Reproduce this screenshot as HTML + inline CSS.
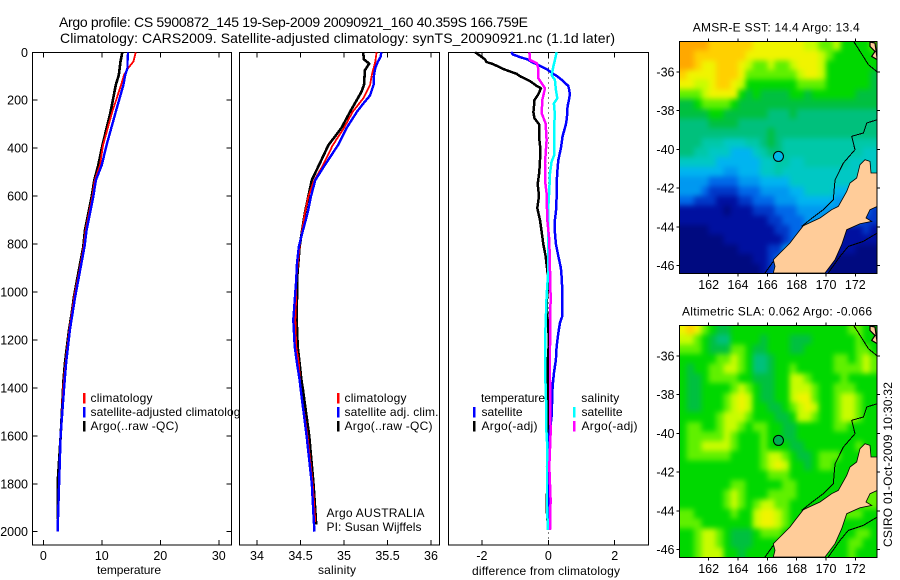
<!DOCTYPE html>
<html lang="en">
<head>
<meta charset="utf-8">
<title>Argo profile chart</title>
<style>
html,body{margin:0;padding:0;background:#fff;width:900px;height:580px;overflow:hidden}
svg{display:block}
text{font-family:"Liberation Sans",sans-serif;fill:#000}
</style>
</head>
<body>
<svg id="chart" width="900" height="580" viewBox="0 0 900 580" xmlns="http://www.w3.org/2000/svg"></svg>
<script>
/* ---------- profile data ---------- */
const depthTicks = [0,200,400,600,800,1000,1200,1400,1600,1800,2000];
const tempTicks = [0,10,20,30];
const salTicks = [34,34.5,35,35.5,36];
const salTickLabels = ['34','34.5','35','35.5','36'];
const diffTicks = [-2,0,2];

const tempClimDepth = [0,39,66,95,136,248,388,470,533,602,741,811,921,1019,1158,1297,1400,1600,1720];
const tempClim = [15.8,15.4,14.5,13.8,13.3,11.8,10.2,9.7,8.8,8.4,7.25,6.9,6.1,5.3,4.45,3.8,3.4,3.0,2.8];
const tempSatDepth = [0,39,66,95,136,248,388,470,533,602,741,811,921,1019,1158,1297,1400,1600,1800,2000];
const tempSat = [14.5,14.4,14.4,14.0,13.7,12.4,10.8,10.0,9.0,8.55,7.4,7.05,6.2,5.45,4.55,3.9,3.55,2.95,2.7,2.45];
const tempArgoDepth = [0,39,95,136,248,388,470,533,602,741,811,921,1019,1089,1158,1297,1367,1400,1600,1800,1950];
const tempArgo = [13.5,13.2,12.9,12.4,11.5,10.1,9.4,8.72,8.27,7.13,6.84,5.99,5.25,4.85,4.4,3.7,3.45,3.38,2.97,2.45,2.45];

const salClimDepth = [0,39,95,136,193,248,316,388,470,540,602,672,741,811,880,950,1019,1116,1228,1297,1400,1600,1800,1960];
const salClim = [35.375,35.36,35.32,35.3,35.22,35.1,35.0,34.87,34.76,34.65,34.59,34.55,34.52,34.49,34.47,34.45,34.45,34.44,34.45,34.48,34.5,34.58,34.64,34.67];
const salSatDepth = [0,20,39,66,95,136,180,215,248,316,388,470,533,602,672,741,811,880,950,1019,1116,1228,1297,1367,1400,1600,1800,2000];
const salSat = [35.43,35.42,35.39,35.36,35.345,35.34,35.3,35.22,35.15,35.03,34.93,34.78,34.67,34.62,34.58,34.53,34.48,34.46,34.45,34.437,34.417,34.433,34.46,34.49,34.5,34.57,34.63,34.66];
const salArgoDepth = [0,30,47,75,136,165,248,316,388,465,533,602,672,741,811,880,950,1019,1116,1228,1297,1367,1400,1600,1800,1970];
const salArgo = [35.22,35.23,35.29,35.24,35.23,35.2,35.07,34.97,34.82,34.72,34.63,34.59,34.55,34.52,34.49,34.475,34.46,34.46,34.456,34.468,34.49,34.51,34.525,34.6,34.65,34.68];

const diffTempArgoDepth = [0,10,20,30,40,50,60,70,80,90,100,120,140,150,175,200,225,250,275,300,350,400,450,500,550,600,650,700,750,800,850,900,950,1050,1100,1200,1300,1400,1500,1600,1700,1800,1900,1960];
const diffTempArgo = [-2.2,-2.1,-2.0,-1.9,-1.87,-1.65,-1.5,-1.35,-1.15,-.95,-.85,-.55,-.35,-.22,-.3,-.42,-.43,-.45,-.42,-.28,-.28,-.24,-.25,-.27,-.32,-.28,-.33,-.25,-.2,-.15,-.08,-.04,0,-.05,-.03,.02,-.02,-.02,0,-.03,0,-.03,-.05,-.02];
const diffTempSatDepth = [0,10,20,30,40,50,60,70,80,90,100,120,140,150,175,200,225,250,275,300,350,400,450,500,550,600,650,700,750,800,850,900,950,1000,1050,1102,1130,1172,1228,1283,1339,1394,1519,1631,1756,1992];
const diffTempSat = [-1.12,-1.05,-.85,-.62,-.5,-.35,-.2,-.05,.05,.15,.27,.45,.6,.62,.65,.62,.58,.57,.56,.53,.43,.38,.3,.27,.25,.25,.24,.2,.2,.23,.3,.38,.41,.42,.42,.42,.35,.3,.25,.23,.17,.13,.1,0,0,.02];
const diffSalSatDepth = [0,32,60,95,115,157,192,213,248,366,428,456,505,574,644,783,908,1019,1172,1353,1450,1547,1645,1728,1895,1992];
const diffSalSat = [.25,.2,.15,.1,.2,.23,.27,.17,.19,.18,.18,.1,.05,.03,0,0,0,-.05,-.09,-.09,-.07,-.07,-.03,-.04,-.04,-.01];
const diffSalArgoDepth = [0,32,46,67,108,150,199,255,296,366,463,533,588,700,783,1019,1228,1367,1589,1728,1867,1992];
const diffSalArgo = [-.57,-.55,-.35,-.3,-.3,-.1,-.18,-.2,-.08,-.05,-.1,-.1,-.05,-.03,.03,.07,.05,.05,.07,.03,.07,.05];

/* ---------- map data: colour level per half-degree cell ---------- */
const mapLonTicks = [162,164,166,168,170,172];
const mapLatTicks = [36,38,40,42,44,46];
const floatLon = 166.759;
const floatLat = 40.359;
const sstLevels = [
[15,15,15,15,14,14,14,14,14,14,13,13,13,13,13,13,13,12,12,11,11,12,10,10,10,10,11],
[15,15,14,14,14,14,14,14,14,13,13,13,13,13,13,13,13,13,13,12,11,10,10,10,10,10,10],
[15,15,14,13,13,14,14,14,13,12,11,11,12,11,11,12,13,13,13,12,10,10,10,10,10,10,10],
[14,13,13,13,13,14,14,14,13,11,11,11,11,11,11,11,12,13,13,12,10,10,10,10,10,10,9],
[13,13,12,12,13,14,14,13,12,10,10,10,10,10,10,10,11,11,11,11,10,10,10,10,10,10,9],
[11,11,11,12,13,13,13,13,10,9,10,9,9,9,9,10,10,9,10,10,10,10,10,10,9,9,9],
[9,9,10,11,11,11,11,10,9,9,9,9,9,9,9,9,9,9,9,9,9,9,9,9,9,9,9],
[9,9,9,9,10,10,9,9,9,9,9,9,8,8,8,9,8,8,8,8,8,8,8,8,8,8,8],
[8,8,8,8,9,9,9,9,8,8,8,8,8,8,8,8,8,8,8,8,8,8,8,8,8,8,8],
[8,8,8,8,8,8,8,8,8,8,8,8,9,8,8,8,8,8,8,8,8,8,8,8,8,8,8],
[8,8,8,7,7,7,6,6,6,7,7,8,9,8,7,7,7,7,7,7,7,7,7,7,7,7,7],
[8,8,7,7,6,6,6,5,5,5,6,7,8,8,7,7,7,7,7,7,7,7,7,7,7,6,6],
[6,6,6,6,6,5,5,5,5,5,5,6,6,7,7,6,6,7,7,7,7,7,7,6,6,6,6],
[5,5,5,5,5,5,4,4,5,5,5,6,6,7,6,6,6,6,6,6,6,6,6,6,6,6,6],
[4,4,4,4,3,3,3,3,4,4,4,5,5,5,5,6,6,6,6,6,6,6,6,6,6,5,5],
[4,4,4,3,2,2,2,2,3,3,3,4,4,4,4,5,5,6,6,6,6,5,5,5,5,5,5],
[3,3,2,2,2,1,1,1,2,2,3,3,3,4,4,4,5,5,5,5,5,4,4,4,4,4,4],
[1,1,1,1,1,1,0,1,1,1,2,2,2,3,3,3,4,4,4,4,4,4,4,4,4,3,2],
[1,1,1,1,1,1,1,1,1,1,1,1,2,2,3,3,3,4,4,4,4,4,4,4,3,2,2],
[0,0,0,0,1,1,1,1,1,1,1,1,1,2,2,3,3,4,4,4,4,3,1,1,1,2,1],
[0,0,0,0,0,0,1,1,1,1,1,1,1,1,2,3,4,4,4,4,4,1,1,1,1,1,1],
[0,0,0,0,0,0,0,0,1,1,1,1,2,2,4,5,5,5,5,5,1,1,1,1,0,0,0],
[0,0,0,0,0,0,0,0,0,0,1,1,2,3,4,5,5,5,1,1,1,0,0,0,0,0,0],
[0,0,0,0,0,0,0,0,0,0,0,1,2,3,4,5,5,5,2,2,0,0,0,0,0,0,0]
];
const slaLevels = [
[13,14,13,11,10,9,9,10,10,10,10,10,10,10,10,10,10,10,10,10,10,10,10,11,11,10,10],
[12,12,11,10,9,8,8,10,10,10,10,9,10,10,10,9,9,9,10,10,10,10,10,10,11,10,10],
[11,11,11,10,9,9,9,11,11,10,9,9,10,10,10,9,9,10,10,10,10,10,10,10,11,11,10],
[10,10,10,10,10,11,11,12,11,10,8,8,9,10,10,10,10,10,10,10,10,11,11,10,11,12,11],
[10,9,10,10,11,11,12,12,11,10,8,8,9,10,10,11,10,10,10,10,10,11,11,11,11,12,11],
[10,9,9,10,11,11,11,11,10,10,9,9,9,10,10,12,12,11,10,10,10,10,11,10,10,10,10],
[10,9,9,10,10,10,10,11,12,11,10,9,9,10,10,12,12,12,11,10,10,11,11,11,10,10,10],
[10,9,9,10,10,10,11,12,13,12,10,9,9,10,10,12,13,13,11,10,10,11,12,12,11,10,10],
[10,9,9,10,10,10,11,12,13,12,10,10,9,9,10,11,12,13,12,10,10,11,12,12,11,10,10],
[10,10,10,10,10,11,12,12,12,11,10,10,10,9,9,10,12,12,11,10,10,11,12,12,11,10,10],
[10,11,11,10,10,11,12,12,11,10,11,11,10,10,9,9,10,10,10,10,10,11,11,10,10,10,10],
[10,11,11,11,11,11,12,11,10,10,10,11,10,10,9,9,10,10,10,10,10,10,10,10,10,10,10],
[10,11,11,12,12,12,12,11,10,10,10,11,10,10,10,9,9,10,10,10,10,10,10,10,11,10,10],
[10,11,11,11,11,11,11,10,10,10,10,11,12,12,11,10,9,9,10,11,11,11,10,10,10,10,10],
[10,10,10,10,10,10,10,10,10,10,10,11,12,13,12,10,10,9,10,11,11,10,10,10,10,10,10],
[10,10,10,10,10,10,10,10,10,10,10,10,11,11,11,10,10,10,10,10,10,10,10,10,10,10,10],
[10,10,10,10,10,10,10,11,11,10,10,10,10,10,11,11,10,10,10,10,10,10,10,10,10,11,11],
[10,10,10,10,10,10,11,12,11,10,10,10,11,11,11,11,10,10,10,10,10,10,10,10,10,11,11],
[10,10,10,10,10,10,11,12,11,10,11,12,12,11,11,10,10,10,10,10,10,10,10,10,10,11,11],
[11,11,10,10,10,10,10,11,10,10,12,13,13,12,11,10,10,10,10,10,10,10,11,11,11,10,10],
[11,11,11,10,10,10,10,10,10,10,12,13,13,12,11,10,10,10,10,10,10,10,10,10,10,10,10],
[10,10,11,12,12,11,10,9,9,9,10,11,11,11,10,10,10,10,10,10,10,10,10,10,11,11,10],
[10,10,11,12,12,11,10,9,9,9,10,10,10,10,10,10,10,10,10,10,10,10,10,11,11,10,10],
[10,10,11,12,12,12,10,10,9,10,10,10,10,10,10,10,10,10,10,10,10,10,10,11,10,10,10]
];
const levelColors = ['#000a80','#0010a0','#0038c8','#0068e8','#0098f0','#00b4f0','#00c8c4','#00c8a8','#00c07c','#00c040','#00d800','#60f000','#c8fc00','#f0f400','#ffd000','#ffa800'];

/* ---------- helpers ---------- */
const svg = document.getElementById('chart');
const NS = 'http://www.w3.org/2000/svg';
function makeEl(tag, name, parent){
  const el = document.createElementNS(NS, tag);
  
  
  (parent || svg).appendChild(el);
  return el;
}
function label(str, x, y, size, anchor, name, fit){
  const t = makeEl('text', name);
  t.setAttribute('x', x);
  t.setAttribute('y', y);
  t.setAttribute('font-size', size);
  t.setAttribute('text-anchor', anchor || 'start');
  if (fit) { t.setAttribute('textLength', fit); t.setAttribute('lengthAdjust', 'spacing'); }
  t.textContent = str;
  return t;
}
function seg(x1, y1, x2, y2, name, w){
  const l = makeEl('line', name);
  l.setAttribute('x1', x1); l.setAttribute('y1', y1);
  l.setAttribute('x2', x2); l.setAttribute('y2', y2);
  l.setAttribute('stroke', '#000');
  l.setAttribute('stroke-width', w || 1);
  l.setAttribute('shape-rendering', 'crispEdges');
  return l;
}
const yTop = 52.5, yBottom = 545;
const depthY = d => 52.3 + d * 0.2397;
function panelFrame(x0, x1, name){
  const r = makeEl('rect', name);
  r.setAttribute('x', x0); r.setAttribute('y', yTop);
  r.setAttribute('width', x1 - x0); r.setAttribute('height', yBottom - yTop);
  r.setAttribute('fill', '#fff');
  r.setAttribute('stroke', '#000');
  r.setAttribute('stroke-width', 1);
  r.setAttribute('shape-rendering', 'crispEdges');
}
function xTicks(vals, labels, sx, name){
  vals.forEach((v, i) => {
    seg(sx(v), yBottom, sx(v), yBottom - 5, name + '-tick-bottom');
    seg(sx(v), yTop, sx(v), yTop + 5, name + '-tick-top');
    label(labels[i], sx(v), 560, 12.5, 'middle', name + '-tick-label');
  });
}
function profile(depths, vals, sx, color, w, name){
  const p = makeEl('polyline', name);
  p.setAttribute('points', depths.map((d, i) => sx(vals[i]).toFixed(1) + ',' + depthY(d).toFixed(1)).join(' '));
  p.setAttribute('fill', 'none');
  p.setAttribute('stroke', color);
  p.setAttribute('stroke-width', w);
  p.setAttribute('stroke-linejoin', 'round');
  p.setAttribute('shape-rendering', 'crispEdges');
}
function legendBar(x, y, color, name){
  const r = makeEl('rect', name);
  r.setAttribute('x', x); r.setAttribute('y', y);
  r.setAttribute('width', 2.5); r.setAttribute('height', 10.5);
  r.setAttribute('fill', color);
}

/* ---------- titles ---------- */
label('Argo profile: CS 5900872_145 19-Sep-2009 20090921_160 40.359S 166.759E', 59, 27, 14, 'start', 'chart-title-line-1', 469);
label('Climatology: CARS2009. Satellite-adjusted climatology: synTS_20090921.nc (1.1d later)', 60, 43, 14, 'start', 'chart-title-line-2', 555);

/* ---------- temperature panel ---------- */
const tempX = v => 43.3 + v * 5.85;
panelFrame(32.5, 231.5, 'temperature-panel-frame');
depthTicks.forEach(d => {
  seg(32.5, depthY(d), 37.5, depthY(d), 'depth-tick-left');
  seg(226.5, depthY(d), 231.5, depthY(d), 'depth-tick-right');
  label(String(d), 28, depthY(d) + 4.5, 12.5, 'end', 'depth-tick-label');
});
xTicks(tempTicks, tempTicks.map(String), tempX, 'temperature-axis');
profile(tempArgoDepth, tempArgo, tempX, '#000', 2.6, 'temperature-argo-line');
profile(tempClimDepth, tempClim, tempX, '#f00', 1.8, 'temperature-climatology-line');
profile(tempSatDepth, tempSat, tempX, '#00f', 2.4, 'temperature-satellite-line');
label('temperature', 129, 574, 12, 'middle', 'temperature-axis-title', 64);
legendBar(83, 393, '#f00', 'legend-climatology-bar');
legendBar(83, 407, '#00f', 'legend-satellite-bar');
legendBar(83, 421, '#000', 'legend-argo-bar');
label('climatology', 90.5, 402, 12, 'start', 'legend-climatology-label', 62);
label('satellite-adjusted climatology', 90.5, 416, 12, 'start', 'legend-satellite-label', 156);
label('Argo(..raw -QC)', 90.5, 430, 12, 'start', 'legend-argo-label', 88);

/* ---------- salinity panel (covers overflowing legend text) ---------- */
const salX = v => 257 + (v - 34) * 87;
panelFrame(239.5, 439.5, 'salinity-panel-frame');
xTicks(salTicks, salTickLabels, salX, 'salinity-axis');
profile(salArgoDepth, salArgo, salX, '#000', 2.6, 'salinity-argo-line');
profile(salClimDepth, salClim, salX, '#f00', 1.8, 'salinity-climatology-line');
profile(salSatDepth, salSat, salX, '#00f', 2.4, 'salinity-satellite-line');
label('salinity', 337, 574, 12, 'middle', 'salinity-axis-title', 38);
legendBar(337, 393, '#f00', 'legend-climatology-bar');
legendBar(337, 407, '#00f', 'legend-satellite-adj-bar');
legendBar(337, 421, '#000', 'legend-argo-bar');
label('climatology', 344.5, 402, 12, 'start', 'legend-climatology-label', 62);
label('satellite adj. clim.', 344.5, 416, 12, 'start', 'legend-satellite-adj-label', 94);
label('Argo(..raw -QC)', 344.5, 430, 12, 'start', 'legend-argo-label', 88);
label('Argo AUSTRALIA', 326.5, 517, 12, 'start', 'argo-australia-note', 98);
label('PI: Susan Wijffels', 326.5, 531, 12, 'start', 'principal-investigator-note', 95);

/* ---------- difference panel ---------- */
const diffX = v => 548.3 + v * 33.2;
panelFrame(448.5, 648.5, 'difference-panel-frame');
const zeroLine = seg(diffX(0), yTop, diffX(0), yBottom, 'zero-difference-line');
zeroLine.setAttribute('stroke-dasharray', '1 4');
xTicks(diffTicks, diffTicks.map(String), diffX, 'difference-axis');
label('temperature', 481, 402, 12, 'start', 'legend-temperature-heading', 64);
label('salinity', 581.3, 402, 12, 'start', 'legend-salinity-heading', 38);
legendBar(473, 407, '#00f', 'legend-temperature-satellite-bar');
legendBar(473, 421, '#000', 'legend-temperature-argo-bar');
legendBar(573, 407, '#0ff', 'legend-salinity-satellite-bar');
legendBar(573, 421, '#f0f', 'legend-salinity-argo-bar');
label('satellite', 481.5, 416, 12, 'start', 'legend-temperature-satellite-label', 41);
label('Argo(-adj)', 481.5, 430, 12, 'start', 'legend-temperature-argo-label', 56);
label('satellite', 581.5, 416, 12, 'start', 'legend-salinity-satellite-label', 41);
label('Argo(-adj)', 581.5, 430, 12, 'start', 'legend-salinity-argo-label', 56);
profile(diffTempArgoDepth, diffTempArgo, diffX, '#000', 2.5, 'difference-temperature-argo-line');
profile(diffTempSatDepth, diffTempSat, diffX, '#00f', 2.5, 'difference-temperature-satellite-line');
profile(diffSalSatDepth, diffSalSat, diffX, '#0ff', 2.5, 'difference-salinity-satellite-line');
profile(diffSalArgoDepth, diffSalArgo, diffX, '#f0f', 2.5, 'difference-salinity-argo-line');
label('difference from climatology', 546, 575, 12, 'middle', 'difference-axis-title', 148);

/* ---------- maps ---------- */
const mapW = 197.6, mapH = 232;
const coastPoints = '93.6,232 95.3,225.4 93.6,218.7 100.3,212 110.3,202 115.3,195.4 123.6,184.7 140.3,177 152,168.7 158.6,165.4 167,150.4 170.3,142 177,137 180.3,123.7 185.3,118.7 190.3,120.4 191.3,132 197.6,132 197.6,165.4 190.3,168.7 186.3,177 192,180.4 180.3,182.7 167,188.7 162,203.7 155.3,218.7 145.3,232';
const islandPoints = '190.3,1 195.3,2 197.6,18.7 192,15.4 195.3,10.4 190.3,5.4';
const contourPaths = [
  '197.6,78.7 187,82 183.7,92 172,95.3 175.3,108.7 163.7,122 155.3,139 153.6,158.7 143.6,168.7 130.3,178.7 122,185.4',
  '148.6,232 160.3,215.4 168.6,205.4 183.6,200.4 197.6,192',
  '85.3,232 93.6,220.4',
  '173.7,0 180.3,10.3 188.7,23.7 197.6,31'
];
const defs = makeEl('defs', 'shared-definitions');
const blur = makeEl('filter', 'map-smoothing-filter', defs);
blur.setAttribute('id', 'map-smooth');
blur.setAttribute('filterUnits', 'userSpaceOnUse');
blur.setAttribute('x', 650); blur.setAttribute('y', 0);
blur.setAttribute('width', 250); blur.setAttribute('height', 580);
blur.setAttribute('color-interpolation-filters', 'sRGB');
const gauss = makeEl('feGaussianBlur', 'map-smoothing-blur', blur);
gauss.setAttribute('stdDeviation', 2.6);

function drawMap(levels, top, prefix, markerColor, title, titleX, titleFit){
  const left = 679.7;
  const lonX = lon => 679.3 + (lon - 160) * 14.67;
  const latY = lat => top + 31 + (lat - 36) * 19.37;
  const clip = makeEl('clipPath', prefix + '-map-clip', defs);
  clip.setAttribute('id', prefix + '-clip');
  const clipRect = makeEl('rect', prefix + '-map-clip-area', clip);
  clipRect.setAttribute('x', 679.5); clipRect.setAttribute('y', top + 0.5);
  clipRect.setAttribute('width', mapW); clipRect.setAttribute('height', mapH);
  const group = makeEl('g', prefix + '-map');
  const clipped = makeEl('g', prefix + '-map-clipped', group);
  clipped.setAttribute('clip-path', 'url(#' + prefix + '-clip)');
  const cells = makeEl('g', prefix + '-heatmap', clipped);
  cells.setAttribute('filter', 'url(#map-smooth)');
  const lastRow = levels.length - 1;
  levels.forEach((row, r) => row.forEach((lvl, c) => {
    const cell = makeEl('rect', prefix + '-cell', cells);
    /* outer cells run past the frame so the smoothing does not fade at the border */
    const x0 = lonX(160 + c * 0.5) - (c === 0 ? 14 : 0);
    const x1 = lonX(160.5 + c * 0.5) + (c === row.length - 1 ? 14 : 0);
    const y0 = latY(34.4 + r * 0.5) - (r === 0 ? 14 : 0);
    const y1 = latY(34.9 + r * 0.5) + (r === lastRow ? 14 : 0);
    cell.setAttribute('x', x0.toFixed(1));
    cell.setAttribute('y', y0.toFixed(1));
    cell.setAttribute('width', (x1 - x0 + 0.4).toFixed(1));
    cell.setAttribute('height', (y1 - y0 + 0.4).toFixed(1));
    cell.setAttribute('fill', levelColors[lvl]);
    cell.setAttribute('shape-rendering', 'crispEdges');
  }));
  const geo = makeEl('g', prefix + '-geography', clipped);
  geo.setAttribute('transform', 'translate(' + left + ' ' + top + ')');
  const land = makeEl('polygon', prefix + '-south-island', geo);
  land.setAttribute('points', coastPoints);
  land.setAttribute('fill', '#ffcc99');
  land.setAttribute('stroke', '#000');
  land.setAttribute('stroke-width', 0.8);
  const island = makeEl('polygon', prefix + '-north-island', geo);
  island.setAttribute('points', islandPoints);
  island.setAttribute('fill', '#ffcc99');
  island.setAttribute('stroke', '#000');
  island.setAttribute('stroke-width', 1.2);
  contourPaths.forEach(pts => {
    const c = makeEl('polyline', prefix + '-depth-contour', geo);
    c.setAttribute('points', pts);
    c.setAttribute('fill', 'none');
    c.setAttribute('stroke', '#000');
    c.setAttribute('stroke-width', 1);
    c.setAttribute('shape-rendering', 'crispEdges');
  });
  const frame = makeEl('rect', prefix + '-map-frame', group);
  frame.setAttribute('x', 679.5); frame.setAttribute('y', top + 0.5);
  frame.setAttribute('width', mapW); frame.setAttribute('height', mapH);
  frame.setAttribute('fill', 'none');
  frame.setAttribute('stroke', '#000');
  frame.setAttribute('shape-rendering', 'crispEdges');
  mapLonTicks.forEach(lon => {
    seg(lonX(lon), top + 0.5, lonX(lon), top - 2.5, prefix + '-lon-tick-top');
    seg(lonX(lon), top + mapH + 0.5, lonX(lon), top + mapH + 3.5, prefix + '-lon-tick-bottom');
    label(String(lon), lonX(lon), top + 248, 12.5, 'middle', prefix + '-lon-tick-label');
  });
  mapLatTicks.forEach(lat => {
    seg(679.5, latY(lat), 676.5, latY(lat), prefix + '-lat-tick-left');
    seg(877.1, latY(lat), 880.1, latY(lat), prefix + '-lat-tick-right');
    label('-' + lat, 674.5, latY(lat) + 4.5, 12.5, 'end', prefix + '-lat-tick-label');
  });
  const marker = makeEl('circle', prefix + '-float-marker', group);
  marker.setAttribute('cx', lonX(floatLon));
  marker.setAttribute('cy', latY(floatLat));
  marker.setAttribute('r', 5);
  marker.setAttribute('fill', markerColor);
  marker.setAttribute('stroke', '#000');
  label(title, titleX, top - 9.5, 12, 'start', prefix + '-map-title', titleFit);
}
drawMap(sstLevels, 41, 'sst', '#00b8e8', 'AMSR-E SST: 14.4  Argo: 13.4', 692.7, 167);
drawMap(slaLevels, 325, 'sla', '#00b050', 'Altimetric SLA: 0.062  Argo: -0.066', 682, 190);

const stamp = label('CSIRO 01-Oct-2009 10:30:32', 0, 0, 12, 'start', 'csiro-timestamp', 165);
stamp.setAttribute('transform', 'translate(892 547) rotate(-90)');
</script>
</body>
</html>
